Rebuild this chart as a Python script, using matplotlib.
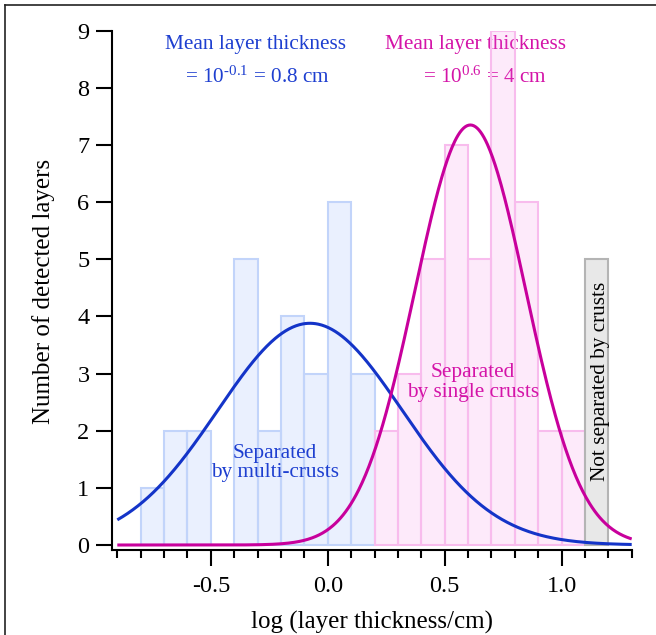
import numpy as np
import matplotlib
matplotlib.use("Agg")
import matplotlib.pyplot as plt
from matplotlib.lines import Line2D

plt.rcParams['font.family'] = ['Liberation Serif', 'DejaVu Serif']
plt.rcParams['mathtext.fontset'] = 'custom'
plt.rcParams['mathtext.rm'] = 'Liberation Serif'
plt.rcParams['mathtext.it'] = 'Liberation Serif:italic'

# ---- data ----
blue_bins = [-0.8, -0.7, -0.6, -0.5, -0.4, -0.3, -0.2, -0.1, 0.0, 0.1]
blue_counts = [1, 2, 2, 0, 5, 2, 4, 3, 6, 3]
pink_bins = [0.2, 0.3, 0.4, 0.5, 0.6, 0.7, 0.8, 0.9, 1.0]
pink_counts = [2, 3, 5, 7, 5, 9, 6, 2, 2]
gray_bins = [1.1]
gray_counts = [5]
bin_width = 0.1

# Gaussian fit parameters (amplitude, mean, sigma)
blue_fit = (3.88, -0.076, 0.395)
pink_fit = (7.35, 0.61, 0.237)

x_ticks = [-0.5, 0.0, 0.5, 1.0]
x_tick_labels = ['-0.5', '0.0', '0.5', '1.0']
y_ticks = list(range(0, 10))

# ---- colours ----
BLUE = '#1434c8'
PINK = '#c8009c'
BLUE_TXT = '#1e3fd0'
PINK_TXT = '#d414a8'

fig = plt.figure(figsize=(6.56, 6.35), dpi=100)
ax = fig.add_axes([111.7/656, 1-550/635, 520/656, (550-30.7)/635])

ax.bar(blue_bins, blue_counts, width=bin_width, align='edge',
       facecolor=(0.55, 0.68, 0.98, 0.18), edgecolor='#c2d4fa', linewidth=1.5, zorder=2)
ax.bar(pink_bins, pink_counts, width=bin_width, align='edge',
       facecolor=(0.96, 0.45, 0.88, 0.15), edgecolor='#f8bced', linewidth=1.5, zorder=2)
ax.bar(gray_bins, gray_counts, width=bin_width, align='edge',
       facecolor='#e8e8e8', edgecolor='#b4b4b4', linewidth=1.5, zorder=2)

xs = np.linspace(-0.9, 1.3, 600)
for (amp, mu, sig), col in ((blue_fit, BLUE), (pink_fit, PINK)):
    ax.plot(xs, amp*np.exp(-(xs-mu)**2/(2*sig**2)), color=col, lw=2.2, zorder=4,
            solid_capstyle='butt')

ax.set_xlim(-0.924, 1.3)
ax.set_ylim(-0.0875, 9)

for s in ('top', 'right'):
    ax.spines[s].set_visible(False)
ax.spines['left'].set_linewidth(1.5)
ax.spines['bottom'].set_linewidth(1.5)

ax.set_xticks(x_ticks)
ax.set_xticklabels(x_tick_labels)
ax.set_xticks(np.round(np.arange(-0.9, 1.3001, 0.1), 2), minor=True)
ax.set_yticks(y_ticks)
ax.tick_params(axis='x', which='major', direction='out', length=11.5, width=1.5,
               pad=7.5, labelsize=17.5)
ax.tick_params(axis='x', which='minor', direction='out', length=5.8, width=1.5)
ax.tick_params(axis='y', which='major', direction='out', length=11.5, width=1.5,
               pad=4.5, labelsize=17.5)

ax.set_xlabel('log (layer thickness/cm)', fontsize=18)
ax.xaxis.set_label_coords(0.5, -0.139)
ax.xaxis.label.set_va('center')
ax.set_ylabel('Number of detected layers', fontsize=18)
ax.yaxis.set_label_coords(-0.132, 0.498)
ax.yaxis.label.set_va('center')

# annotations
ax.text(-0.311, 8.75, 'Mean layer thickness', color=BLUE_TXT, fontsize=15.3,
        ha='center', va='center', zorder=1)
ax.text(-0.30, 8.19, r'= 10$^{\text{-0.1}}$ = 0.8 cm', color=BLUE_TXT, fontsize=15.3,
        ha='center', va='center', zorder=1)
ax.text(0.634, 8.75, 'Mean layer thickness', color=PINK_TXT, fontsize=15.3,
        ha='center', va='center', zorder=1)
ax.text(0.672, 8.19, r'= 10$^{\text{0.6}}$ = 4 cm', color=PINK_TXT, fontsize=15.3,
        ha='center', va='center', zorder=1)
ax.text(-0.225, 1.435, 'Separated\nby multi-crusts', color=BLUE_TXT, fontsize=15.3,
        ha='center', va='center', zorder=5, linespacing=1.05)
ax.text(0.622, 2.84, 'Separated\nby single crusts', color=PINK_TXT, fontsize=15.3,
        ha='center', va='center', zorder=5, linespacing=1.05)
ax.text(1.165, 2.87, 'Not separated by crusts', color='black', fontsize=15.3,
        rotation=90, ha='center', va='center', zorder=5)

# figure frame (top and left)
fig.add_artist(Line2D([5/656, 5/656], [0, 1-5/635], transform=fig.transFigure,
                      color='#222222', lw=1.2))
fig.add_artist(Line2D([5/656, 1], [1-5/635, 1-5/635], transform=fig.transFigure,
                      color='#222222', lw=1.2))

fig.savefig('out.png', dpi=100)
